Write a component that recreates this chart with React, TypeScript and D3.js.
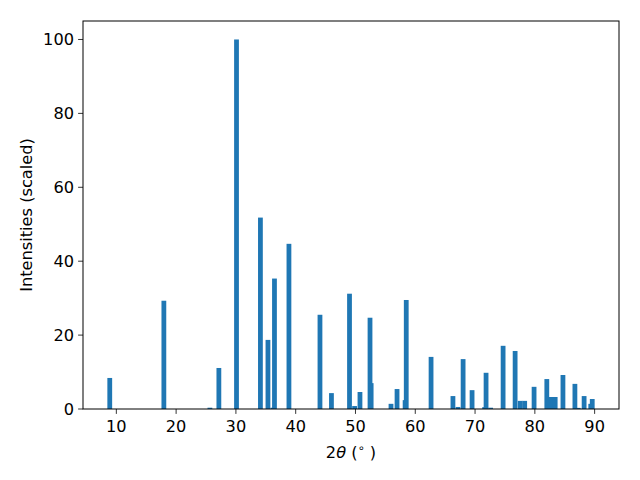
import React from "react";
import * as d3 from "d3";

const twoTheta = [8.9, 17.95, 25.65, 27.15, 30.1, 34.1, 35.36, 36.2, 36.45, 38.87, 44.06, 45.98, 49.0, 49.85, 50.75, 52.43, 52.62, 55.94, 56.95, 58.3, 58.49, 62.64, 66.3, 67.15, 68.0, 69.5, 71.6, 71.84, 72.6, 74.69, 76.7, 77.55, 78.3, 79.87, 82.0, 82.7, 83.4, 84.7, 86.7, 87.25, 88.24, 89.35, 89.6];
const intensities = [8.4, 29.3, 0.35, 11.1, 100, 51.8, 18.7, 0.35, 35.3, 44.7, 25.5, 4.3, 31.2, 0.8, 4.6, 24.7, 7.0, 1.4, 5.4, 2.4, 29.5, 14.1, 3.5, 0.55, 13.5, 5.1, 0.5, 9.8, 0.35, 17.1, 15.7, 2.2, 2.2, 6.0, 8.1, 3.25, 3.25, 9.2, 6.8, 0.3, 3.5, 1.4, 2.7];
const xTicks = [10, 20, 30, 40, 50, 60, 70, 80, 90];
const yTicks = [0, 20, 40, 60, 80, 100];

const W = 640, H = 480;
const L = 83, R = 619, T = 21, B = 409;
const barW = 0.8;
const font = "DejaVu Sans, sans-serif";
const fs = 16.2;

export default function App() {
  const xmin = d3.min(twoTheta)! - barW / 2;
  const xmax = d3.max(twoTheta)! + barW / 2;
  const pad = (xmax - xmin) * 0.05;
  const x = d3.scaleLinear().domain([xmin - pad, xmax + pad]).range([L, R]);
  const ymax = d3.max(intensities)! * 1.05;
  const y = d3.scaleLinear().domain([0, ymax]).range([B, T]);
  const color = "#1f77b4";
  return (
    <svg width={W} height={H} style={{ position: "absolute", left: 0, top: 0, background: "#fff" }}>
      <rect x={0} y={0} width={W} height={H} fill="#fff" />
      {twoTheta.map((t, i) => (
        <rect key={i} x={x(t - barW / 2)} y={y(intensities[i])} width={x(t + barW / 2) - x(t - barW / 2)} height={y(0) - y(intensities[i])} fill={color} />
      ))}
      <rect x={L} y={T} width={R - L} height={B - T} fill="none" stroke="#000" strokeWidth={1} />
      {xTicks.map((v) => (
        <g key={v}>
          <line x1={x(v)} x2={x(v)} y1={B} y2={B + 4.9} stroke="#000" strokeWidth={0.8} />
          <text x={x(v)} y={B + 23} textAnchor="middle" fontFamily={font} fontSize={fs} fill="#000">{v}</text>
        </g>
      ))}
      {yTicks.map((v) => (
        <g key={v}>
          <line x1={L - 4.9} x2={L} y1={y(v)} y2={y(v)} stroke="#000" strokeWidth={0.8} />
          <text x={L - 9} y={y(v) + 6} textAnchor="end" fontFamily={font} fontSize={fs} fill="#000">{v}</text>
        </g>
      ))}
      <text x={(L + R) / 2} y={458} textAnchor="middle" fontFamily={font} fontSize={fs} fill="#000">
        2<tspan fontStyle="italic">θ</tspan> (<tspan dy={-6} fontSize={11.5}>∘</tspan><tspan dy={6}> )</tspan>
      </text>
      <text transform={`translate(32,${(T + B) / 2}) rotate(-90)`} textAnchor="middle" fontFamily={font} fontSize={fs} fill="#000">Intensities (scaled)</text>
    </svg>
  );
}
